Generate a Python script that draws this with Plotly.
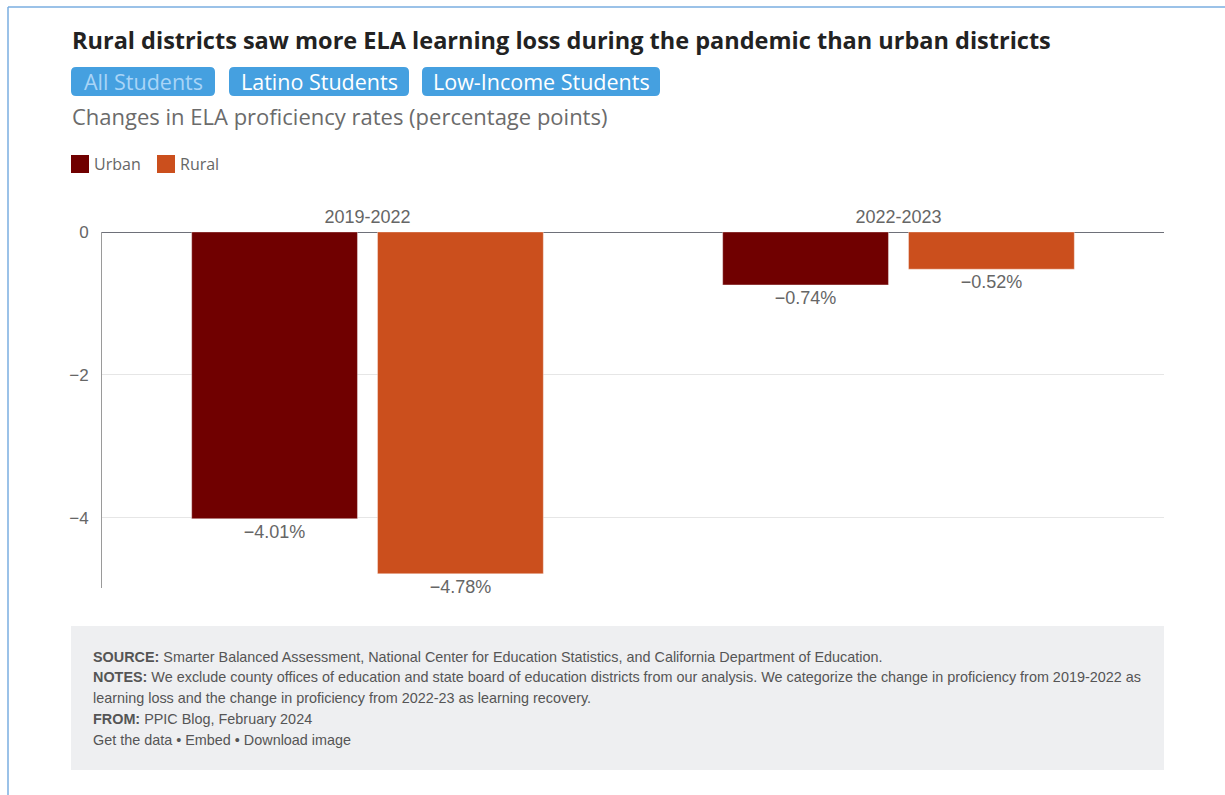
import plotly.graph_objects as go

categories = ["2019-2022", "2022-2023"]
series_names = ["Urban", "Rural"]
urban = [-4.01, -0.74]
rural = [-4.78, -0.52]
series_colors = ["#700000", "#cb4f1d"]
y_ticks = [0, -2, -4]
y_tick_labels = ["0", "\u22122", "\u22124"]
buttons = ["All Students", "Latino Students", "Low-Income Students"]

W, H = 1225, 795
L, R, T, B = 102, 1164, 232, 588


def px(x):
    return (x - L) / (R - L)


def py(y):
    return (B - y) / (B - T)


def fmt(v):
    return f"{v:.2f}%".replace("-", "\u2212")


fig = go.Figure()
for name, vals, col in zip(series_names, [urban, rural], series_colors):
    fig.add_trace(go.Bar(
        x=categories, y=vals, name=name,
        marker=dict(color=col, line=dict(color="rgba(255,255,255,0.35)", width=1)),
        text=[fmt(v) for v in vals], textposition="outside",
        textfont=dict(family="Liberation Sans", size=18, color="#666666"),
        cliponaxis=False, showlegend=False,
    ))

shapes = []
annotations = []

# outer frame
shapes.append(dict(type="line", xref="paper", yref="paper", x0=px(8), x1=px(1230), y0=py(7), y1=py(7),
                   line=dict(color="#7aaee0", width=1.5)))
shapes.append(dict(type="line", xref="paper", yref="paper", x0=px(8), x1=px(8), y0=py(7), y1=py(800),
                   line=dict(color="#7aaee0", width=1.5)))

# title
annotations.append(dict(text="<b>Rural districts saw more ELA learning loss during the pandemic than urban districts</b>",
                        xref="paper", yref="paper", x=px(70), y=py(40), xanchor="left", yanchor="middle",
                        showarrow=False, font=dict(family="Open Sans", size=23.5, color="#222222")))


def rounded(x0, y0, x1, y1, r):
    pts = [
        f"M {px(x0 + r)},{py(y0)}",
        f"L {px(x1 - r)},{py(y0)}",
        f"Q {px(x1)},{py(y0)} {px(x1)},{py(y0 + r)}",
        f"L {px(x1)},{py(y1 - r)}",
        f"Q {px(x1)},{py(y1)} {px(x1 - r)},{py(y1)}",
        f"L {px(x0 + r)},{py(y1)}",
        f"Q {px(x0)},{py(y1)} {px(x0)},{py(y1 - r)}",
        f"L {px(x0)},{py(y0 + r)}",
        f"Q {px(x0)},{py(y0)} {px(x0 + r)},{py(y0)}",
        "Z",
    ]
    return " ".join(pts)


btn_x = [(71, 215), (229, 409), (422, 660)]
for i, (lbl, (bx0, bx1)) in enumerate(zip(buttons, btn_x)):
    shapes.append(dict(type="path", xref="paper", yref="paper", path=rounded(bx0, 67, bx1, 96, 5),
                       fillcolor="#45a0e0", line=dict(width=0)))
    annotations.append(dict(text=lbl, xref="paper", yref="paper", x=px((bx0 + bx1) / 2), y=py(81.5),
                            xanchor="center", yanchor="middle", showarrow=False,
                            font=dict(family="Open Sans", size=21.5, color="#a9d5f7" if i == 0 else "#ffffff")))

annotations.append(dict(text="Changes in ELA proficiency rates (percentage points)", xref="paper", yref="paper",
                        x=px(70), y=py(116), xanchor="left", yanchor="middle", showarrow=False,
                        font=dict(family="Open Sans", size=22, color="#6b6b6b")))

# legend
leg_x = [71, 157]
for name, col, lx in zip(series_names, series_colors, leg_x):
    shapes.append(dict(type="rect", xref="paper", yref="paper", x0=px(lx), x1=px(lx + 18), y0=py(155), y1=py(173),
                       fillcolor=col, line=dict(width=0)))
    annotations.append(dict(text=name, xref="paper", yref="paper", x=px(lx + 21), y=py(164),
                            xanchor="left", yanchor="middle", showarrow=False,
                            font=dict(family="Open Sans", size=16, color="#666666")))

# notes box
shapes.append(dict(type="rect", xref="paper", yref="paper", x0=px(71), x1=px(1164), y0=py(626), y1=py(770),
                   fillcolor="#eeeff1", line=dict(width=0), layer="below"))
notes = [
    "<b>SOURCE:</b> Smarter Balanced Assessment, National Center for Education Statistics, and California Department of Education.",
    "<b>NOTES:</b> We exclude county offices of education and state board of education districts from our analysis. We categorize the change in proficiency from 2019-2022 as",
    "learning loss and the change in proficiency from 2022-23 as learning recovery.",
    "<b>FROM:</b> PPIC Blog, February 2024",
    "Get the data \u2022 Embed \u2022 Download image",
]
note_y = [657, 677, 698, 719, 740]
for t, ny in zip(notes, note_y):
    annotations.append(dict(text=t, xref="paper", yref="paper", x=px(91), y=py(ny), xanchor="left",
                            yanchor="middle", showarrow=False,
                            font=dict(family="Liberation Sans", size=14.4, color="#555555")))

fig.update_layout(
    width=W, height=H,
    margin=dict(l=L, r=W - R, t=T, b=H - B, pad=0),
    paper_bgcolor="white", plot_bgcolor="white",
    barmode="group", bargap=0.3, bargroupgap=0.108,
    shapes=shapes, annotations=annotations,
    font=dict(family="Liberation Sans", color="#666666"),
)
fig.update_xaxes(side="top", showline=False, showgrid=False, ticks="",
                 tickfont=dict(family="Liberation Sans", size=18, color="#666666"), ticklabelstandoff=4)
fig.update_yaxes(range=[-4.98, 0], tickvals=y_ticks, ticktext=y_tick_labels, showgrid=True,
                 gridcolor="#e6e6e6", zeroline=True, zerolinecolor="#6e7079", zerolinewidth=1,
                 showline=True, linecolor="#9a9a9a", linewidth=1, ticks="",
                 tickfont=dict(family="Liberation Sans", size=17, color="#666666"), ticklabelstandoff=9)

fig.write_html("out.html")
